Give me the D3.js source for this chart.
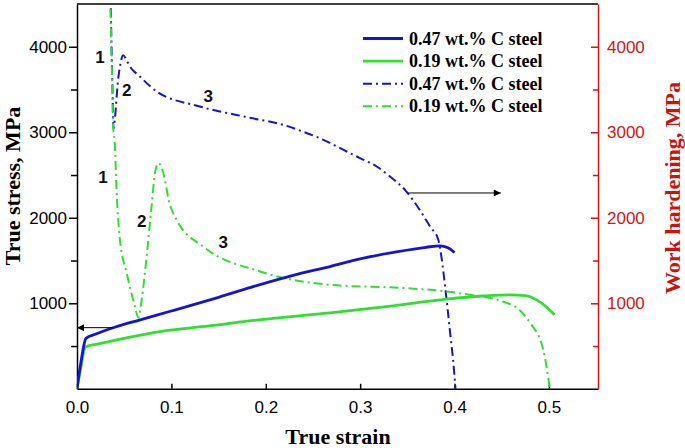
<!DOCTYPE html>
<html>
<head>
<meta charset="utf-8">
<script src="https://cdn.jsdelivr.net/npm/d3@7"></script>
<style>
  html, body { margin: 0; padding: 0; background: #fff; }
  svg { display: block; }
</style>
</head>
<body>
<svg id="chart" width="685" height="448"></svg>
<script>
// ---- data (true strain, MPa) ----
const stress047 = [[0,0],[0.004,300],[0.0095,590],[0.02,640],[0.04,720],[0.067,807],[0.1,910],[0.15,1070],[0.193,1216],[0.23,1330],[0.268,1430],[0.3,1520],[0.34,1605],[0.37,1655],[0.3845,1672],[0.393,1650],[0.4,1594]];
const stress019 = [[0,0],[0.004,240],[0.009,490],[0.02,520],[0.035,555],[0.05,590],[0.088,670],[0.14,735],[0.193,807],[0.268,889],[0.33,965],[0.3916,1049],[0.43,1085],[0.4587,1099],[0.475,1090],[0.487,1040],[0.497,960],[0.506,865]];
const hard047 = [[0.0358,4450],[0.0368,3900],[0.0378,3400],[0.0386,3040],[0.0405,3200],[0.043,3550],[0.046,3800],[0.049,3900],[0.053,3830],[0.058,3740],[0.0646,3672],[0.0844,3477],[0.13,3302],[0.183,3170],[0.218,3088],[0.239,3009],[0.261,2912],[0.2857,2775],[0.2998,2698],[0.3175,2600],[0.3316,2483],[0.349,2307],[0.363,2094],[0.374,1898],[0.3828,1743],[0.3863,1529],[0.39,1197],[0.395,690],[0.3994,222],[0.401,0]];
const hard019 = [[0.0355,4440],[0.037,3700],[0.0385,3030],[0.040,2870],[0.042,2300],[0.0455,1743],[0.0526,1357],[0.0614,963],[0.065,830],[0.0685,1041],[0.0738,1547],[0.079,2132],[0.0826,2522],[0.0862,2639],[0.0932,2444],[0.0967,2230],[0.1056,1977],[0.1336,1664],[0.194,1372],[0.268,1216],[0.349,1177],[0.392,1138],[0.416,1099],[0.451,1021],[0.468,930],[0.48,772],[0.494,456],[0.501,0]];

const xTicks = [0.0, 0.1, 0.2, 0.3, 0.4, 0.5];
const yTicks = [1000, 2000, 3000, 4000];
const yMinorTicks = [500, 1500, 2500, 3500];
const legendLabels = ["0.47 wt.% C steel", "0.19 wt.% C steel", "0.47 wt.% C steel", "0.19 wt.% C steel"];
const stageLabels047 = [["1", 0.0243, 3880], ["2", 0.0526, 3500], ["3", 0.1390, 3420]];
const stageLabels019 = [["1", 0.0276, 2480], ["2", 0.0685, 1960], ["3", 0.1550, 1720]];
const arrowLeft = [[0.038, 715], [0.0, 715]];
const arrowRight = [[0.351, 2290], [0.449, 2290]];

// ---- layout ----
const svg = d3.select("#chart");
const L = 77, R = 598, T = 4, B = 388.8;
const x = d3.scaleLinear().domain([0, 0.552]).range([L, R]);
const y = d3.scaleLinear().domain([0, 4500]).range([B, T]);
const yR = d3.scaleLinear().domain([0, 4500]).range([B, T]);

const BLUE = "#1414d2", GREEN = "#30e030", RED = "#e01010";
const SERIF = "'Times New Roman','Liberation Serif',serif";
const SANS = "Arial,'Liberation Sans',sans-serif";
const DASH = "9,4,2,4";

// frame top
svg.append("line").attr("x1", L).attr("x2", R).attr("y1", T).attr("y2", T)
  .attr("stroke", "#000").attr("stroke-width", 1.5);

// bottom axis (ticks inward)
const gx = svg.append("g").attr("transform", `translate(0,${B})`)
  .call(d3.axisBottom(x).tickValues(xTicks).tickFormat(d3.format(".1f")).tickSizeInner(-5).tickSizeOuter(0).tickPadding(12));
gx.select(".domain").attr("stroke", "#000").attr("stroke-width", 1.5);
gx.selectAll(".tick line").attr("stroke", "#000").attr("stroke-width", 1.5);
gx.selectAll(".tick text").attr("font-family", SANS).attr("font-size", 17).attr("fill", "#000");

// left axis
const gy = svg.append("g").attr("transform", `translate(${L},0)`)
  .call(d3.axisLeft(y).tickValues(yTicks).tickFormat(d3.format("d")).tickSizeInner(8).tickSizeOuter(0).tickPadding(2));
gy.select(".domain").attr("stroke", "#000").attr("stroke-width", 1.5);
gy.selectAll(".tick line").attr("stroke", "#000").attr("stroke-width", 1.5);
gy.selectAll(".tick text").attr("font-family", SANS).attr("font-size", 17).attr("fill", "#000");
svg.append("g").attr("transform", `translate(${L},0)`)
  .call(d3.axisLeft(y).tickValues(yMinorTicks).tickFormat("").tickSizeInner(6).tickSizeOuter(0))
  .call(g => g.select(".domain").remove())
  .selectAll("line").attr("stroke", "#000").attr("stroke-width", 1.5);

// right axis (red, ticks inward)
const gr = svg.append("g").attr("transform", `translate(${R},0)`)
  .call(d3.axisRight(yR).tickValues(yTicks).tickFormat(d3.format("d")).tickSizeInner(-7).tickSizeOuter(0).tickPadding(9));
gr.select(".domain").attr("stroke", RED).attr("stroke-width", 1.5);
gr.selectAll(".tick line").attr("stroke", RED).attr("stroke-width", 1.5);
gr.selectAll(".tick text").attr("font-family", SANS).attr("font-size", 17).attr("fill", RED);
svg.append("g").attr("transform", `translate(${R},0)`)
  .call(d3.axisRight(yR).tickValues(yMinorTicks).tickFormat("").tickSizeInner(-5).tickSizeOuter(0))
  .call(g => g.select(".domain").remove())
  .selectAll("line").attr("stroke", RED).attr("stroke-width", 1.5);

// axis titles
svg.append("text").attr("x", 338).attr("y", 444).attr("text-anchor", "middle")
  .attr("font-family", SERIF).attr("font-weight", "bold").attr("font-size", 22).text("True strain");
svg.append("text").attr("transform", "translate(19.5,186) rotate(-90)").attr("text-anchor", "middle")
  .attr("font-family", SERIF).attr("font-weight", "bold").attr("font-size", 22).text("True stress, MPa");
svg.append("text").attr("transform", "translate(680,188) rotate(-90)").attr("text-anchor", "middle")
  .attr("font-family", SERIF).attr("font-weight", "bold").attr("font-size", 22).attr("fill", "#d01010").text("Work hardening, MPa");

// curves
const lineL = d3.line().x(d => x(d[0])).y(d => y(d[1])).curve(d3.curveMonotoneX);
const lineR = d3.line().x(d => x(d[0])).y(d => yR(d[1])).curve(d3.curveMonotoneX);
svg.append("clipPath").attr("id", "clip").append("rect")
  .attr("x", L).attr("y", T).attr("width", R - L).attr("height", B - T + 1);
const plot = svg.append("g").attr("clip-path", "url(#clip)");

plot.append("path").datum(hard047).attr("d", lineR).attr("fill", "none")
  .attr("stroke", BLUE).attr("stroke-width", 2).attr("stroke-dasharray", DASH);
plot.append("path").datum(hard019).attr("d", lineR).attr("fill", "none")
  .attr("stroke", GREEN).attr("stroke-width", 2).attr("stroke-dasharray", DASH);
plot.append("path").datum(stress019).attr("d", lineL).attr("fill", "none")
  .attr("stroke", GREEN).attr("stroke-width", 2.8);
plot.append("path").datum(stress047).attr("d", lineL).attr("fill", "none")
  .attr("stroke", BLUE).attr("stroke-width", 2.8);

// arrows
const defs = svg.append("defs");
defs.append("marker").attr("id", "ah").attr("viewBox", "0 0 10 10").attr("refX", 10).attr("refY", 5)
  .attr("markerWidth", 9).attr("markerHeight", 7).attr("markerUnits", "userSpaceOnUse").attr("orient", "auto")
  .append("path").attr("d", "M0,0 L10,5 L0,10 Z").attr("fill", "#000");
[arrowLeft, arrowRight].forEach((a, i) => {
  const sc = i === 0 ? y : yR;
  svg.append("line").attr("x1", x(a[0][0])).attr("y1", sc(a[0][1])).attr("x2", x(a[1][0])).attr("y2", sc(a[1][1]))
    .attr("stroke", "#000").attr("stroke-width", 1).attr("marker-end", "url(#ah)");
});

// stage labels
stageLabels047.concat(stageLabels019).forEach(s => {
  svg.append("text").attr("x", x(s[1])).attr("y", yR(s[2]) + 6).attr("text-anchor", "middle")
    .attr("font-family", SANS).attr("font-weight", "bold").attr("font-size", 17).attr("fill", "#111").text(s[0]);
});

// legend
const legColors = [BLUE, GREEN, BLUE, GREEN];
const legDash = [null, null, DASH, DASH];
legendLabels.forEach((t, i) => {
  const cy = 38.5 + i * 22.6;
  svg.append("line").attr("x1", 363).attr("x2", 403).attr("y1", cy).attr("y2", cy)
    .attr("stroke", legColors[i]).attr("stroke-width", legDash[i] ? 2 : 2.8)
    .attr("stroke-dasharray", legDash[i]);
  svg.append("text").attr("x", 409).attr("y", cy + 6)
    .attr("font-family", SERIF).attr("font-weight", "bold").attr("font-size", 18).attr("fill", "#000").text(t);
});
</script>
</body>
</html>
